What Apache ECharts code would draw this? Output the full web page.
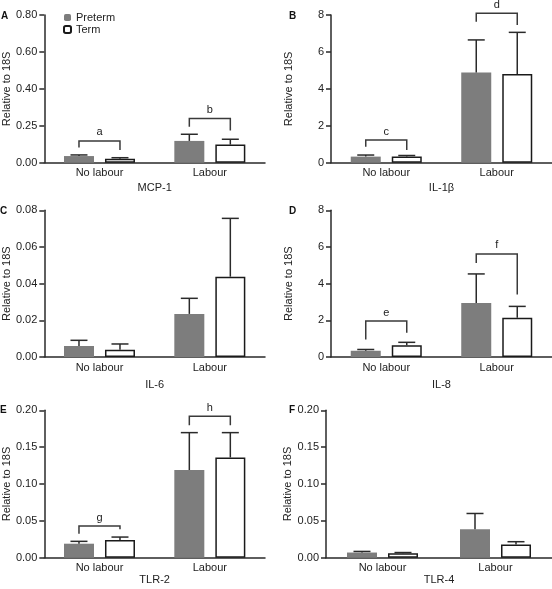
<!DOCTYPE html>
<html><head><meta charset="utf-8">
<script src="https://cdn.jsdelivr.net/npm/echarts@6/dist/echarts.min.js"></script>
<style>html,body{margin:0;padding:0;background:#fff}#c{width:552px;height:589px}</style>
</head><body><div id="c"></div>
<script>
// ---------- data ----------
const categories = ['No labour', 'Labour'];
const seriesNames = ['Preterm', 'Term'];

const mcp1Preterm = [0.036, 0.118];
const mcp1PretermUpper = [0.042, 0.154];
const mcp1Term = [0.022, 0.098];
const mcp1TermUpper = [0.027, 0.127];
const mcp1TickLabels = ['0.00', '0.25', '0.40', '0.60', '0.80'];
const mcp1Brackets = [[0, 0.118, 0.083, 0.069], [1, 0.240, 0.195, 0.175]];
const mcp1BracketLabels = ['a', 'b'];

const il1bPreterm = [0.33, 4.88];
const il1bPretermUpper = [0.415, 6.65];
const il1bTerm = [0.33, 4.80];
const il1bTermUpper = [0.39, 7.06];
const il1bTickLabels = ['0', '2', '4', '6', '8'];
const il1bBrackets = [[0, 1.23, 0.87, 0.69], [1, 8.09, 7.64, 7.46]];
const il1bBracketLabels = ['c', 'd'];

const il6Preterm = [0.006, 0.0235];
const il6PretermUpper = [0.0091, 0.032];
const il6Term = [0.004, 0.0438];
const il6TermUpper = [0.0071, 0.0756];
const il6TickLabels = ['0.00', '0.02', '0.04', '0.06', '0.08'];
const il6Brackets = [];
const il6BracketLabels = [];

const il8Preterm = [0.34, 2.94];
const il8PretermUpper = [0.41, 4.53];
const il8Term = [0.64, 2.14];
const il8TermUpper = [0.80, 2.76];
const il8TickLabels = ['0', '2', '4', '6', '8'];
const il8Brackets = [[0, 1.96, 0.96, 1.32], [1, 5.62, 5.13, 3.41]];
const il8BracketLabels = ['e', 'f'];

const tlr2Preterm = [0.019, 0.119];
const tlr2PretermUpper = [0.0222, 0.1697];
const tlr2Term = [0.024, 0.136];
const tlr2TermUpper = [0.028, 0.1697];
const tlr2TickLabels = ['0.00', '0.05', '0.10', '0.15', '0.20'];
const tlr2Brackets = [[0, 0.043, 0.0326, 0.0385], [1, 0.192, 0.1796, 0.1796]];
const tlr2BracketLabels = ['g', 'h'];

const tlr4Preterm = [0.007, 0.0386];
const tlr4PretermUpper = [0.0085, 0.060];
const tlr4Term = [0.006, 0.018];
const tlr4TermUpper = [0.007, 0.0217];
const tlr4TickLabels = ['0.00', '0.05', '0.10', '0.15', '0.20'];
const tlr4Brackets = [];
const tlr4BracketLabels = [];

// ---------- styling / layout ----------
const FONT = "'Liberation Sans', Arial, sans-serif";
const TXT = '#222';
const AX = '#2a2a2a';
const GRAY = '#7d7d7d';
const HALF = 20.5;   // px from category center to bar center
const CAP = 8.5;

const panels = [
  {letter: 'A', name: 'MCP-1', grid: {left: 41.7, top: 15, width: 223.3, height: 147.7}, max: 0.8, interval: 0.2,
   ticks: mcp1TickLabels, pre: mcp1Preterm, preUp: mcp1PretermUpper, term: mcp1Term, termUp: mcp1TermUpper,
   br: mcp1Brackets, brl: mcp1BracketLabels, nameGap: 20, titleGap: 28, lx: 1, ly: 11},
  {letter: 'B', name: 'IL-1β', grid: {left: 331, top: 15, width: 221, height: 147.7}, max: 8, interval: 2,
   ticks: il1bTickLabels, pre: il1bPreterm, preUp: il1bPretermUpper, term: il1bTerm, termUp: il1bTermUpper,
   br: il1bBrackets, brl: il1bBracketLabels, nameGap: 20, titleGap: 37, lx: 289, ly: 11},
  {letter: 'C', name: 'IL-6', grid: {left: 41.7, top: 210.3, width: 223.3, height: 146.7}, max: 0.08, interval: 0.02,
   ticks: il6TickLabels, pre: il6Preterm, preUp: il6PretermUpper, term: il6Term, termUp: il6TermUpper,
   br: il6Brackets, brl: il6BracketLabels, nameGap: 22, titleGap: 28, lx: 0, ly: 206},
  {letter: 'D', name: 'IL-8', grid: {left: 331, top: 210.3, width: 221, height: 146.7}, max: 8, interval: 2,
   ticks: il8TickLabels, pre: il8Preterm, preUp: il8PretermUpper, term: il8Term, termUp: il8TermUpper,
   br: il8Brackets, brl: il8BracketLabels, nameGap: 22, titleGap: 37, lx: 289, ly: 206},
  {letter: 'E', name: 'TLR-2', grid: {left: 41.7, top: 410.3, width: 223.3, height: 147.4}, max: 0.2, interval: 0.05,
   ticks: tlr2TickLabels, pre: tlr2Preterm, preUp: tlr2PretermUpper, term: tlr2Term, termUp: tlr2TermUpper,
   br: tlr2Brackets, brl: tlr2BracketLabels, nameGap: 12, titleGap: 28, lx: 0, ly: 405},
  {letter: 'F', name: 'TLR-4', grid: {left: 326, top: 410.3, width: 226, height: 147.4}, max: 0.2, interval: 0.05,
   ticks: tlr4TickLabels, pre: tlr4Preterm, preUp: tlr4PretermUpper, term: tlr4Term, termUp: tlr4TermUpper,
   br: tlr4Brackets, brl: tlr4BracketLabels, nameGap: 12, titleGap: 32, lx: 289, ly: 405}
];

function errItem(params, api) {
  const c = api.value(0), side = api.value(3);
  const p0 = api.coord([c, api.value(1)]);
  const p1 = api.coord([c, api.value(2)]);
  const x = p0[0] + side * HALF;
  const st = {stroke: AX, lineWidth: 1.5};
  return {type: 'group', children: [
    {type: 'line', shape: {x1: x, y1: p0[1], x2: x, y2: p1[1]}, style: st},
    {type: 'line', shape: {x1: x - CAP, y1: p1[1], x2: x + CAP, y2: p1[1]}, style: st}
  ]};
}
function brItem(labels) {
  return function (params, api) {
    const c = api.value(0);
    const top = api.coord([c, api.value(1)]);
    const l = api.coord([c, api.value(2)]);
    const r = api.coord([c, api.value(3)]);
    const xl = top[0] - HALF, xr = top[0] + HALF;
    return {type: 'group', children: [
      {type: 'polyline', shape: {points: [[xl, l[1]], [xl, top[1]], [xr, top[1]], [xr, r[1]]]},
       style: {stroke: '#3a3a3a', lineWidth: 1.5, fill: null}},
      {type: 'text', style: {text: labels[params.dataIndex], x: top[0], y: top[1] - 3, align: 'center',
       verticalAlign: 'bottom', font: '11px ' + FONT, fill: TXT}}
    ]};
  };
}

const grids = [], xAxes = [], yAxes = [], series = [], graphics = [];
panels.forEach((p, i) => {
  grids.push(Object.assign({containLabel: false}, p.grid));
  xAxes.push({
    type: 'category', gridIndex: i, data: categories,
    name: p.name, nameLocation: 'middle', nameGap: p.nameGap,
    nameTextStyle: {fontFamily: FONT, fontSize: 11, color: TXT},
    axisLine: {lineStyle: {color: AX, width: 1.5}},
    axisTick: {show: false},
    axisLabel: {fontFamily: FONT, fontSize: 11, color: TXT, margin: 5},
    splitLine: {show: false}
  });
  yAxes.push({
    type: 'value', gridIndex: i, min: 0, max: p.max, interval: p.interval,
    name: 'Relative to 18S', nameLocation: 'middle', nameGap: p.titleGap,
    nameTextStyle: {fontFamily: FONT, fontSize: 11, color: TXT},
    axisLine: {show: true, lineStyle: {color: AX, width: 1.5}},
    axisTick: {show: true, inside: false, length: 5, lineStyle: {color: AX, width: 1.5}},
    axisLabel: {fontFamily: FONT, fontSize: 11, color: TXT, margin: 7,
      formatter: v => p.ticks[Math.round(v / p.interval)]},
    splitLine: {show: false}
  });
  series.push({type: 'bar', name: seriesNames[0], xAxisIndex: i, yAxisIndex: i, data: p.pre,
    barWidth: 30, barGap: '36.7%', itemStyle: {color: GRAY}, silent: true});
  series.push({type: 'bar', name: seriesNames[1], xAxisIndex: i, yAxisIndex: i, data: p.term,
    barWidth: 30, barGap: '36.7%', itemStyle: {color: '#fff', borderColor: '#1a1a1a', borderWidth: 1.5}, silent: true});
  const errData = [];
  p.pre.forEach((v, k) => errData.push([k, v, p.preUp[k], -1]));
  p.term.forEach((v, k) => errData.push([k, v, p.termUp[k], 1]));
  series.push({type: 'custom', xAxisIndex: i, yAxisIndex: i, data: errData, renderItem: errItem, silent: true, z: 3});
  if (p.br.length) {
    series.push({type: 'custom', xAxisIndex: i, yAxisIndex: i, data: p.br, renderItem: brItem(p.brl), silent: true, clip: false, z: 3});
  }
  graphics.push({type: 'text', left: p.lx, top: p.ly, style: {text: p.letter, font: 'bold 10px ' + FONT, fill: '#111'}});
});

const chart = echarts.init(document.getElementById('c'), null, {renderer: 'canvas'});
chart.setOption({
  animation: false,
  backgroundColor: '#fff',
  legend: {
    data: seriesNames, orient: 'vertical', left: 63, top: 12, itemWidth: 7, itemHeight: 7, itemGap: 1,
    padding: 0, textStyle: {fontFamily: FONT, fontSize: 11, color: TXT}, selectedMode: false
  },
  grid: grids, xAxis: xAxes, yAxis: yAxes, series: series, graphic: graphics
});
</script>
</body></html>
